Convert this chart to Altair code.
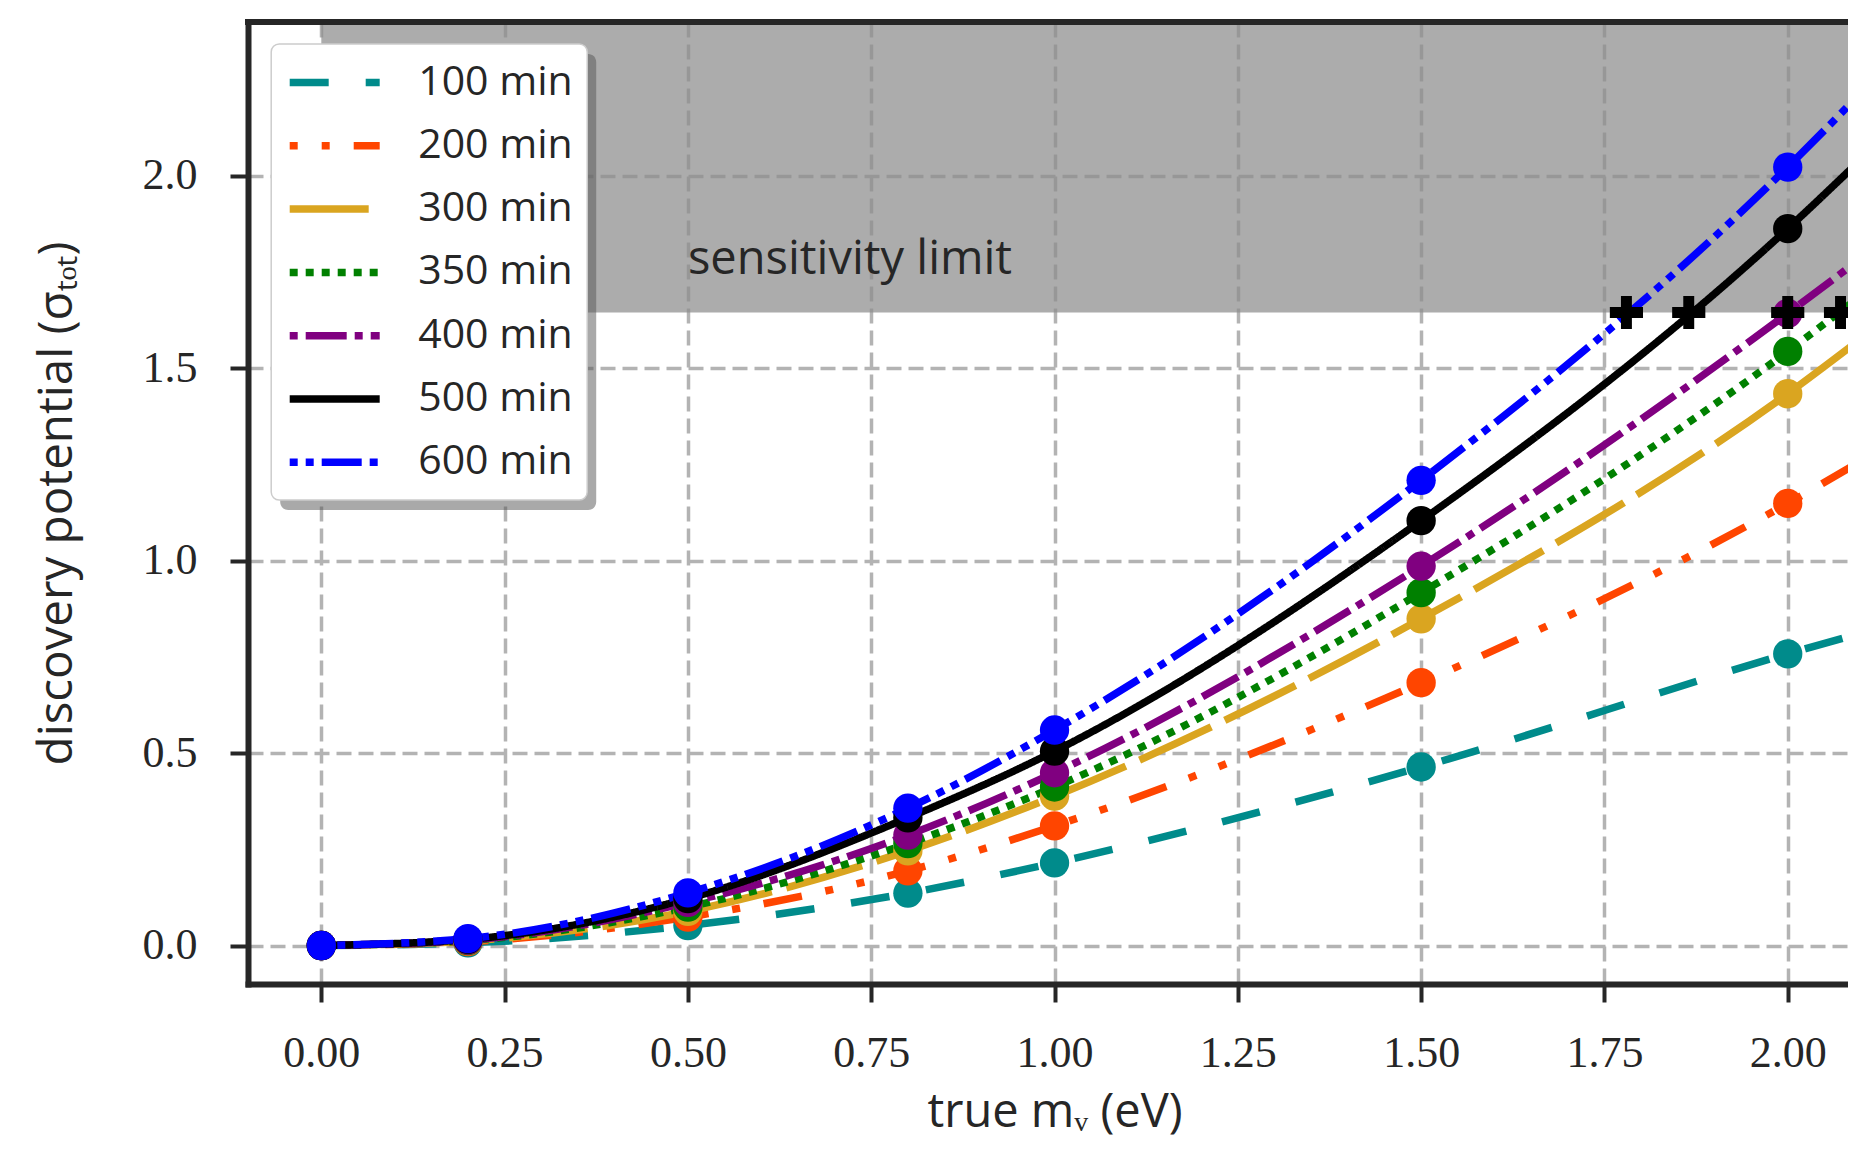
import altair as alt
import pandas as pd

# ---------------- data ----------------
mass = [0.0, 0.2, 0.5, 0.8, 1.0, 1.5, 2.0]
series_names = ["100 min", "200 min", "300 min", "350 min", "400 min", "500 min", "600 min"]
values_100 = [0.0, 0.007, 0.052, 0.136, 0.215, 0.464, 0.758]
values_200 = [0.0, 0.010, 0.074, 0.194, 0.311, 0.683, 1.149]
values_300 = [0.0, 0.012, 0.089, 0.246, 0.388, 0.849, 1.434]
values_350 = [0.0, 0.013, 0.100, 0.265, 0.412, 0.917, 1.544]
values_400 = [0.0, 0.014, 0.112, 0.287, 0.449, 0.986, 1.643]
values_500 = [0.0, 0.016, 0.122, 0.332, 0.505, 1.104, 1.863]
values_600 = [0.0, 0.018, 0.137, 0.357, 0.560, 1.209, 2.023]
series_values = [values_100, values_200, values_300, values_350, values_400, values_500, values_600]

# where each curve leaves the picture on the right (line only, no marker)
edge_mass = 2.1
edge_values = [0.812, 1.259, 1.577, 1.689, 1.786, 2.043, 2.216]

# sensitivity limit (shaded) and the crossings marked with "+"
limit_sigma = 1.645
limit_top = 2.4
limit_x = [0.0, 2.1]
cross_mass = [1.780, 1.865, 2.0, 2.072]
limit_label = "sensitivity limit"
limit_label_x = 0.5
limit_label_y = 1.745

x_ticks = [0.0, 0.25, 0.5, 0.75, 1.0, 1.25, 1.5, 1.75, 2.0]
y_ticks = [0.0, 0.5, 1.0, 1.5, 2.0]

# ---------------- styles ----------------
colors = ["#008B8B", "#FF4500", "#DAA520", "#008000", "#800080", "#000000", "#0000FF"]
dashes = [[39, 37], [8, 24, 8, 24, 39, 24], [79, 15], [8, 8], [8, 8, 41, 8], [1, 0],
          [8, 8, 8, 8, 40, 8]]
INK = "#262626"
PLUS = "M-1,-0.33H-0.33V-1H0.33V-0.33H1V0.33H0.33V1H-0.33V0.33H-1Z"

W, H = 1600, 962

# ---------------- tables ----------------
pt_rows, line_rows = [], []
for i, (name, vals) in enumerate(zip(series_names, series_values)):
    for m, v in zip(mass, vals):
        pt_rows.append({"series": name, "mass": m, "value": v, "hex": colors[i], "idx": i})
        line_rows.append({"series": name, "mass": m, "value": v})
    line_rows.append({"series": name, "mass": edge_mass, "value": edge_values[i]})
pt_df = pd.DataFrame(pt_rows)
line_df = pd.DataFrame(line_rows)
cross_df = pd.DataFrame({"mass": cross_mass, "value": [limit_sigma] * len(cross_mass)})
region_df = pd.DataFrame({"x0": [limit_x[0]], "x1": [limit_x[1]],
                          "y0": [limit_sigma], "y1": [limit_top]})
label_df = pd.DataFrame({"mass": [limit_label_x], "value": [limit_label_y], "text": [limit_label]})
one = pd.DataFrame({"k": [0]})

xs = alt.Scale(domain=[-0.1, 2.0822], nice=False, zero=False)
ys = alt.Scale(domain=[-0.1, 2.4], nice=False, zero=False)

GRID_DASH = [15, 7]

xaxis = alt.Axis(values=x_ticks, format=".2f", title="true mᵥ (eV)",
                 titleFont="Open Sans", titleFontSize=47, titleFontWeight="normal",
                 titleColor=INK, titleX=806.5, titleY=142, titleBaseline="alphabetic",
                 titleAlign="center",
                 labelFont="Liberation Serif", labelFontSize=44, labelColor=INK,
                 labelBaseline="alphabetic", labelPadding=64.7, labelFlush=False,
                 tickSize=18, tickWidth=4, tickColor=INK,
                 domainColor=INK, domainWidth=6, domainCap="square",
                 grid=True, gridColor="#b3b3b3", gridWidth=3.5, gridDash=GRID_DASH)
yaxis = alt.Axis(values=y_ticks, format=".1f", title="discovery potential (σₜₒₜ)",
                 titleFont="Open Sans", titleFontSize=47.5, titleFontWeight="normal",
                 titleColor=INK, titleX=-176.5, titleY=481, titleBaseline="alphabetic",
                 titleAlign="center", titleAngle=270,
                 labelFont="Liberation Serif", labelFontSize=44, labelColor=INK,
                 labelAlign="right", labelBaseline="middle", labelPadding=33,
                 tickSize=18, tickWidth=4, tickColor=INK,
                 domainColor=INK, domainWidth=6, domainCap="square",
                 grid=True, gridColor="#b3b3b3", gridWidth=3.5, gridDash=GRID_DASH)

leg = alt.Legend(title=None, orient="none", legendX=37.7, legendY=39.5,
                 symbolType="stroke", symbolSize=8100, symbolStrokeWidth=7.5,
                 clipHeight=42, rowPadding=21.3, padding=0,
                 labelFont="Open Sans", labelFontSize=41, labelColor=INK,
                 labelOffset=34.5, labelLimit=400, symbolOpacity=1)

region = alt.Chart(region_df).mark_rect(color="#8c8c8c", opacity=0.72, clip=True).encode(
    x=alt.X("x0:Q", scale=xs, axis=xaxis), x2="x1:Q",
    y=alt.Y("y0:Q", scale=ys, axis=yaxis), y2="y1:Q")

shadow = alt.Chart(one).mark_rect(color="#535353", opacity=0.5, cornerRadius=8).encode(
    x=alt.value(32.2), x2=alt.value(348.2), y=alt.value(32), y2=alt.value(488))
box = alt.Chart(one).mark_rect(color="white", stroke="#cccccc", strokeWidth=1.5,
                               cornerRadius=8).encode(
    x=alt.value(23.2), x2=alt.value(339.2), y=alt.value(22), y2=alt.value(478))

lines = alt.Chart(line_df).mark_line(strokeWidth=7.5, interpolate="monotone", clip=True,
                                     strokeCap="butt").encode(
    x=alt.X("mass:Q", scale=xs, axis=xaxis),
    y=alt.Y("value:Q", scale=ys, axis=yaxis),
    color=alt.Color("series:N", scale=alt.Scale(domain=series_names, range=colors), legend=leg),
    strokeDash=alt.StrokeDash("series:N", scale=alt.Scale(domain=series_names, range=dashes),
                              legend=leg))

points = alt.Chart(pt_df).mark_circle(size=860, opacity=1).encode(
    x=alt.X("mass:Q", scale=xs, axis=xaxis),
    y=alt.Y("value:Q", scale=ys, axis=yaxis),
    color=alt.Color("hex:N", scale=None),
    order=alt.Order("idx:Q"))

plus = alt.Chart(cross_df).mark_point(shape=PLUS, size=1100, filled=True, color="black",
                                      opacity=1, clip=True).encode(
    x=alt.X("mass:Q", scale=xs, axis=xaxis),
    y=alt.Y("value:Q", scale=ys, axis=yaxis))

label = alt.Chart(label_df).mark_text(align="left", baseline="alphabetic", font="Open Sans",
                                      fontSize=47, color=INK).encode(
    x=alt.X("mass:Q", scale=xs, axis=xaxis),
    y=alt.Y("value:Q", scale=ys, axis=yaxis),
    text="text:N")

top_spine = alt.Chart(one).mark_rule(color=INK, strokeWidth=6).encode(
    x=alt.value(-3), x2=alt.value(W), y=alt.value(0))

chart = alt.layer(region, shadow, box, lines, points, plus, label, top_spine).properties(
    width=W, height=H,
    padding={"left": 240, "top": 14, "right": 0, "bottom": 158},
    autosize=alt.AutoSizeParams(type="none"),
    background="white",
).configure_view(stroke=None)

chart.save("out.html", embed_options={"renderer": "svg", "actions": False})
